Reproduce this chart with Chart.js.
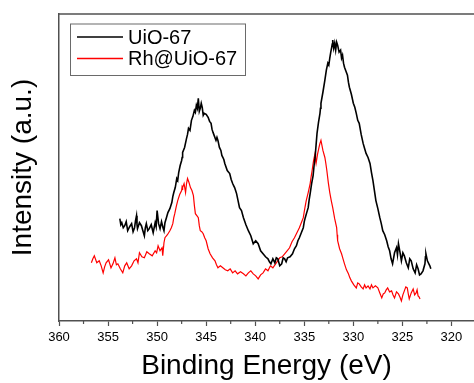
<!DOCTYPE html>
<html>
<head>
<meta charset="utf-8">
<title>XPS Zr 3d</title>
<script src="https://cdn.jsdelivr.net/npm/chart.js@4/dist/chart.umd.min.js"></script>
<style>
  html, body { margin: 0; padding: 0; background: #fff; overflow: hidden; }
  #wrap { width: 474px; height: 383px; }
</style>
</head>
<body>
<div id="wrap"><canvas id="xps"></canvas></div>
<script>
// Binding energy (eV) and intensity (a.u.) for each sample
const uioEnergy = [
  353.8, 353.7, 353.6, 353.45, 353.3, 353.15, 353.0, 352.8, 352.6, 352.45,
  352.3, 352.2, 352.1, 352.05, 352.0, 351.8, 351.6, 351.45, 351.3, 351.2,
  351.1, 350.95, 350.8, 350.6, 350.4, 350.3, 350.2, 350.1, 350.0, 349.85,
  349.7, 349.55, 349.4, 349.3, 349.2, 349.05, 348.9, 348.7, 348.5, 348.4,
  348.3, 348.15, 348.0, 347.9, 347.8, 347.65, 347.5, 347.45, 347.4, 347.2,
  347.0, 346.9, 346.8, 346.65, 346.5, 346.35, 346.2, 346.1, 346.0, 345.9,
  345.8, 345.7, 345.6, 345.5, 345.4, 345.3, 345.2, 345.0, 344.8, 344.65,
  344.5, 344.4, 344.3, 344.15, 344.0, 343.9, 343.8, 343.65, 343.5, 343.4,
  343.3, 343.2, 343.1, 342.85, 342.6, 342.45, 342.3, 342.2, 342.1, 342.0,
  341.9, 341.75, 341.6, 341.4, 341.2, 340.95, 340.7, 340.45, 340.2, 339.95,
  339.7, 339.45, 339.2, 338.95, 338.7, 338.55, 338.4, 338.2, 338.0, 337.85,
  337.7, 337.5, 337.3, 337.15, 337.0, 336.85, 336.7, 336.45, 336.2, 336.0,
  335.8, 335.65, 335.5, 335.3, 335.1, 335.0, 334.9, 334.75, 334.6, 334.5,
  334.4, 334.25, 334.1, 334.0, 333.9, 333.8, 333.7, 333.55, 333.4, 333.35,
  333.3, 333.1, 332.9, 332.75, 332.6, 332.5, 332.4, 332.3, 332.2, 332.15,
  332.1, 332.0, 331.9, 331.8, 331.7, 331.6, 331.45, 331.3, 331.2, 331.1,
  331.0, 330.9, 330.75, 330.6, 330.5, 330.4, 330.2, 330.0, 329.85, 329.7,
  329.55, 329.4, 329.2, 329.0, 328.85, 328.7, 328.5, 328.3, 328.15, 328.0,
  327.85, 327.7, 327.5, 327.3, 327.15, 327.0, 326.8, 326.6, 326.45, 326.3,
  326.15, 326.0, 325.8, 325.6, 325.5, 325.4, 325.25, 325.1, 324.95, 324.8,
  324.6, 324.4, 324.25, 324.1, 323.9, 323.7, 323.55, 323.4, 323.25, 323.1,
  322.9, 322.7, 322.65, 322.6, 322.45, 322.3, 322.2, 322.1
];
const uioIntensity = [
  102, 96, 98, 93, 95, 99, 90, 94, 97, 89,
  93, 100, 105, 96, 92, 98, 95, 90, 85, 93,
  97, 90, 92, 96, 88, 93, 98, 94, 110, 97,
  92, 99, 93, 90, 98, 103, 108, 112, 118, 124,
  128, 133, 142, 140, 148, 155, 160, 163, 168, 173,
  182, 186, 192, 190, 200, 204, 210, 208, 215, 212,
  222, 209, 212, 217, 213, 205, 207, 206, 203, 199,
  197, 191, 188, 184, 180, 183, 180, 173, 170, 165,
  163, 161, 157, 150, 147, 141, 137, 135, 133, 130,
  127, 120, 113, 110, 103, 96, 90, 85, 77, 80,
  77, 70, 67, 64, 62, 59, 57, 62, 58, 63,
  62, 55, 57, 63, 62, 59, 63, 64, 67, 72,
  75, 80, 83, 88, 93, 99, 103, 108, 113, 121,
  127, 137, 145, 155, 163, 175, 187, 198, 207, 212,
  217, 228, 240, 250, 257, 255, 262, 268, 273, 276,
  280, 272, 277, 270, 278, 275, 268, 270, 262, 265,
  257, 253, 249, 245, 238, 233, 226, 217, 213, 207,
  200, 197, 186, 177, 172, 167, 163, 157, 148, 140,
  130, 120, 112, 103, 97, 90, 86, 80, 74, 70,
  62, 57, 68, 73, 66, 77, 69, 60, 68, 65,
  58, 53, 62, 60, 52, 48, 56, 52, 46, 47,
  50, 57, 64, 67, 60, 57, 55, 52
];

const rhEnergy = [
  356.7, 356.55, 356.4, 356.15, 355.9, 355.7, 355.5, 355.35, 355.2, 354.95,
  354.7, 354.5, 354.3, 354.15, 354.0, 353.75, 353.5, 353.3, 353.1, 352.85,
  352.6, 352.35, 352.1, 351.95, 351.8, 351.55, 351.3, 351.05, 350.8, 350.5,
  350.2, 350.05, 349.9, 349.7, 349.5, 349.45, 349.4, 349.3, 349.2, 348.95,
  348.7, 348.55, 348.4, 348.3, 348.2, 348.05, 347.9, 347.7, 347.5, 347.45,
  347.4, 347.25, 347.1, 347.0, 346.9, 346.75, 346.6, 346.45, 346.3, 346.2,
  346.1, 345.95, 345.8, 345.7, 345.6, 345.45, 345.3, 345.15, 345.0, 344.8,
  344.6, 344.35, 344.1, 343.95, 343.8, 343.55, 343.3, 343.05, 342.8, 342.55,
  342.3, 342.05, 341.8, 341.5, 341.2, 340.95, 340.7, 340.45, 340.2, 339.95,
  339.7, 339.45, 339.2, 338.95, 338.7, 338.45, 338.2, 337.85, 337.5, 337.25,
  337.0, 336.75, 336.5, 336.25, 336.0, 335.75, 335.5, 335.3, 335.1, 334.95,
  334.8, 334.6, 334.4, 334.3, 334.2, 334.05, 333.9, 333.85, 333.8, 333.65,
  333.5, 333.4, 333.3, 333.1, 332.9, 332.8, 332.7, 332.55, 332.4, 332.25,
  332.1, 331.9, 331.7, 331.65, 331.6, 331.4, 331.2, 331.05, 330.9, 330.7,
  330.5, 330.35, 330.2, 329.95, 329.7, 329.55, 329.4, 329.2, 329.0, 328.85,
  328.7, 328.5, 328.3, 328.15, 328.0, 327.75, 327.5, 327.3, 327.1, 326.95,
  326.8, 326.65, 326.5, 326.3, 326.1, 325.95, 325.8, 325.6, 325.4, 325.25,
  325.1, 324.95, 324.8, 324.65, 324.5, 324.4, 324.3, 324.1, 323.9, 323.75,
  323.6, 323.5, 323.4, 323.3, 323.2
];
const rhIntensity = [
  58, 62, 65, 58, 60, 55, 48, 54, 58, 61,
  53, 57, 63, 56, 57, 52, 48, 55, 58, 52,
  55, 60, 62, 58, 68, 64, 63, 69, 67, 65,
  70, 68, 75, 70, 73, 69, 65, 78, 83, 86,
  90, 93, 97, 103, 107, 114, 120, 126, 130, 134,
  133, 137, 128, 137, 142, 138, 133, 130, 125, 115,
  107, 105, 103, 95, 90, 89, 87, 83, 80, 72,
  67, 63, 60, 56, 53, 55, 53, 51, 50, 52,
  48, 50, 47, 49, 47, 45, 48, 50, 47, 45,
  42, 46, 48, 52, 50, 55, 53, 58, 63, 64,
  67, 70, 73, 79, 83, 88, 93, 98, 103, 112,
  120, 128, 137, 144, 150, 160, 167, 160, 157, 166,
  173, 177, 180, 170, 163, 157, 150, 138, 128, 120,
  113, 102, 93, 86, 80, 72, 67, 62, 57, 51,
  47, 43, 40, 36, 33, 38, 37, 34, 32, 36,
  33, 35, 32, 36, 33, 35, 33, 28, 23, 27,
  28, 31, 33, 29, 30, 26, 23, 29, 27, 24,
  20, 26, 30, 34, 33, 27, 22, 28, 32, 26,
  28, 31, 25, 24, 22
];

const seriesNames = ['UiO-67', 'Rh@UiO-67'];
const seriesColors = ['#000000', '#ff0000'];

const FONT = '"Liberation Sans", Arial, sans-serif';
const AXIS = '#505050';

function toPoints(xs, ys) {
  return xs.map((x, i) => ({ x: x, y: ys[i] }));
}

// top spine, minor ticks and the boxed legend
const framePlugin = {
  id: 'frame',
  afterDraw(chart) {
    const { ctx, chartArea } = chart;
    const xs = chart.scales.x;
    ctx.save();
    ctx.strokeStyle = AXIS;
    ctx.lineWidth = 1.5;
    ctx.beginPath();
    ctx.moveTo(chartArea.left, chartArea.top);
    ctx.lineTo(chartArea.right, chartArea.top);
    ctx.stroke();

    ctx.lineWidth = 1.2;
    xs.ticks.forEach(t => {
      if (t.value % 5 === 0) return;
      const px = xs.getPixelForValue(t.value);
      ctx.beginPath();
      ctx.moveTo(px, chartArea.bottom);
      ctx.lineTo(px, chartArea.bottom + 3);
      ctx.stroke();
    });

    // legend box
    const bx = 70, by = 23.5, bw = 175, bh = 51.5;
    ctx.strokeStyle = '#6a6a6a';
    ctx.lineWidth = 1;
    ctx.strokeRect(bx + 0.5, by + 0.5, bw, bh);
    ctx.font = '20px ' + FONT;
    ctx.textBaseline = 'middle';
    chart.data.datasets.forEach((ds, i) => {
      const y = 37 + i * 21.5;
      ctx.strokeStyle = ds.borderColor;
      ctx.lineWidth = 1.5;
      ctx.beginPath();
      ctx.moveTo(77, y);
      ctx.lineTo(123, y);
      ctx.stroke();
      ctx.fillStyle = '#000';
      ctx.fillText(ds.label, 128, y + 1);
    });
    ctx.restore();
  }
};

new Chart(document.getElementById('xps'), {
  type: 'line',
  data: {
    datasets: [
      {
        label: seriesNames[0],
        data: toPoints(uioEnergy, uioIntensity),
        borderColor: seriesColors[0],
        borderWidth: 1.6
      },
      {
        label: seriesNames[1],
        data: toPoints(rhEnergy, rhIntensity),
        borderColor: seriesColors[1],
        borderWidth: 1.2
      }
    ]
  },
  options: {
    responsive: true,
    maintainAspectRatio: false,
    animation: false,
    events: [],
    elements: { point: { radius: 0 }, line: { tension: 0 } },
    layout: { padding: { top: 14, right: 0, left: 0, bottom: 0 } },
    plugins: {
      legend: { display: false },
      tooltip: { enabled: false }
    },
    scales: {
      x: {
        type: 'linear',
        reverse: true,
        min: 317.7,
        max: 360,
        afterFit(scale) { scale.height = 62; },
        border: { display: true, color: AXIS, width: 1.5 },
        grid: {
          display: true,
          drawOnChartArea: false,
          tickLength: 5,
          tickWidth: 1.2,
          tickColor: c => (c.tick && c.tick.value % 5 === 0) ? AXIS : 'rgba(0,0,0,0)'
        },
        ticks: {
          stepSize: 2.5,
          includeBounds: false,
          autoSkip: false,
          maxRotation: 0,
          padding: 4,
          color: '#000',
          font: { family: FONT, size: 13 },
          callback: v => (v % 5 === 0 ? String(v) : '')
        },
        title: {
          display: true,
          text: 'Binding Energy (eV)',
          color: '#000',
          font: { family: FONT, size: 28 },
          padding: { top: 0, bottom: 0 }
        }
      },
      y: {
        min: 0,
        max: 306,
        afterFit(scale) { scale.width = 59; },
        border: { display: true, color: AXIS, width: 1.5 },
        grid: { display: false },
        ticks: { display: false },
        title: {
          display: true,
          text: 'Intensity (a.u.)',
          color: '#000',
          font: { family: FONT, size: 28 },
          padding: { top: 6, bottom: 0 }
        }
      }
    }
  },
  plugins: [framePlugin]
});
</script>
</body>
</html>
